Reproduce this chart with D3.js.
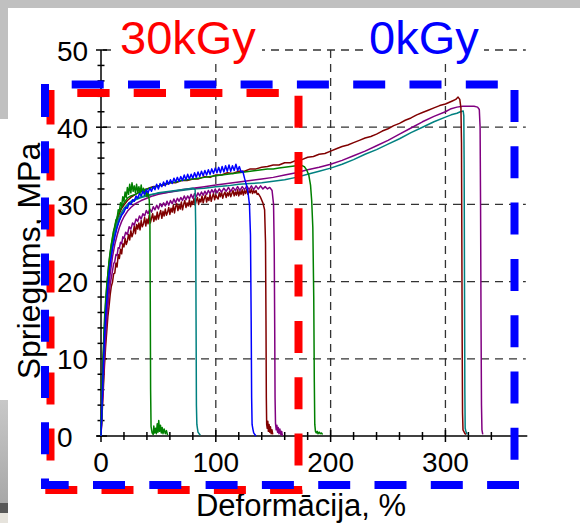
<!DOCTYPE html>
<html>
<head>
<meta charset="utf-8">
<script src="https://cdn.jsdelivr.net/npm/d3@7"></script>
<style>
  html, body { margin: 0; padding: 0; background: #fff; }
  svg { display: block; }
  text { font-family: "Liberation Sans", Arial, Helvetica, sans-serif; }
</style>
</head>
<body>
<svg id="chart" width="580" height="523"></svg>
<script>
// ---- axis ticks and labels ----
const xMajorTicks = [0, 100, 200, 300];
const xMinorTicks = [20, 40, 60, 80, 120, 140, 160, 180, 220, 240, 260, 280, 320, 340, 360];
const yMajorTicks = [0, 10, 20, 30, 40, 50];
const yMinorTicks = [2, 4, 6, 8, 12, 14, 16, 18, 22, 24, 26, 28, 32, 34, 36, 38, 42, 44, 46, 48];
const xTitle = "Deformācija, %";
const yTitle = "Spriegums, MPa";
const doseLabels = ["30kGy", "0kGy"];

// ---- stress-strain records: [strain %, stress MPa] ----
const greenA = [[0,0],[0.5,3],[1,6],[1.5,9],[2,11],[3,15],[4,17.5],[5,19.5],[6,21],[7,22.5],[8,23.6],[9,24.8],[10,25.5],[11,26.6],[12,27],[13,28],[14,28.2],[15,29.3],[16,29.1],[17,30.2],[18,29.8],[19,31],[20,30.4],[21,31.6],[22,30.9],[23,32.2],[24,31.3],[25,32.6],[26,31.5],[27,32.8],[28,31.7],[29,32.4],[30,31.5],[31,32.6],[32,31.6],[33,32.3],[34,31.4],[35,32.5],[36,31.5],[37,32.1],[38,31.2],[39,31.9],[40,31],[41,31.5],[42,30.6],[42.6,28],[42.9,18],[43.2,6],[43.6,1.2],[44.5,0.4],[45.5,0.2],[46,1.3],[46.7,0.4],[47.5,1.0],[48.2,0.3],[49,1.6],[49.6,0.5],[50.3,2.0],[51,0.6],[51.8,1.4],[52.5,0.4],[53.3,1.1],[54,0.3],[55,0.9],[56,0.3],[57,0.7],[58,0.1]];

const tealA = [[0,0],[0.5,2.5],[1,5],[1.5,7.5],[2,9.5],[3,13],[4,16],[5,18],[6,20],[7,21.5],[8,23],[10,25],[12,26.5],[14,27.6],[16,28.4],[18,29],[20,29.5],[23,30],[26,30.4],[30,30.7],[35,31],[40,31.2],[45,31.3],[50,31.5],[55,31.6],[60,31.7],[65,31.8],[70,31.9],[75,32],[80,32.1],[82,31.9],[82.5,27],[82.8,15],[83.1,4],[83.5,1.5],[84,1.0],[84.5,0.5],[85.5,0.3],[86.5,0.1]];

const blue0 = [[0,0],[0.5,2.2],[1,4.5],[1.5,6.8],[2,9],[3,12.5],[4,15.5],[5,17.5],[6,19.5],[7,21],[8,22.3],[10,24.3],[12,25.8],[14,27],[16,27.9],[18,28.6],[20,29.0],[21.5,29.6],[23,29.5],[24.5,30.2],[26,30.0],[27.5,30.6],[29,30.4],[30.5,31.1],[32,30.8],[33.5,31.4],[35,31.1],[36.5,31.7],[38,31.3],[39.5,31.9],[41,31.5],[42.5,32.1],[44,31.7],[45.5,32.3],[47,31.9],[48.5,32.6],[50,32.0],[51.5,32.7],[53,32.3],[54.5,32.9],[56,32.4],[57.5,33.1],[59,32.6],[60.5,33.2],[62,32.7],[63.5,33.4],[65,32.9],[66.5,33.5],[68,33.0],[69.5,33.6],[71,33.1],[72.5,33.8],[74,33.2],[75.5,33.9],[77,33.3],[78.5,33.9],[80,33.4],[81.5,34.1],[83,33.5],[84.5,34.2],[86,33.6],[87.5,34.3],[89,33.7],[90.5,34.4],[92,33.8],[93.5,34.5],[95,33.9],[96.5,34.6],[98,34.0],[99.5,34.7],[101,34.1],[102.5,34.8],[104,34.1],[105.5,34.9],[107,34.2],[108.5,35.0],[110,34.3],[111.5,35.1],[113,34.3],[114.5,35.0],[116,34.4],[117.5,35.2],[119,34.4],[120.5,34.9],[122,34.2],[123.5,34.3],[125,33.4],[126.5,32.6],[128,31.6],[129.3,30],[130.2,26],[130.8,15],[131.2,5],[131.6,1.5],[132.3,0.9],[133,0.4],[134,0.2],[135,0]];

const maroonA = [[0,0],[0.5,1.5],[1,3],[1.5,4.5],[2,6],[3,9],[4,11.5],[5,13.5],[6,15.5],[7,16.8],[8,18.3],[9,19.4],[10,19.9],[11,21.0],[12,21.1],[13,22.4],[14,21.9],[15,23.5],[16,23.0],[17,24.2],[18,23.6],[19,24.9],[20,24.5],[21,25.6],[22,24.8],[23,25.3],[24,26.1],[25,25.4],[26,26.6],[27,25.8],[28,26.3],[29,27.2],[30,26.2],[31,27.4],[32,26.8],[33,27.6],[34,26.7],[35,27.9],[36,27.1],[37,27.5],[38,28.3],[39,27.2],[40,28.1],[41,27.5],[42,28.6],[43,27.6],[44,28.2],[45,28.8],[46,27.8],[47,28.5],[48,28.0],[49,29.0],[50,28.1],[51,28.7],[52,29.2],[53,28.2],[54,29.1],[55,28.5],[56,29.4],[57,28.6],[58,29.0],[59,29.6],[60,28.7],[61,29.5],[62,29.0],[63,29.9],[64,28.9],[65,29.7],[66,30.1],[67,29.2],[68,29.9],[69,29.4],[70,30.3],[71,29.3],[72,30.0],[73,30.5],[74,29.6],[75,30.2],[76,29.8],[77,30.6],[78,29.7],[79,30.4],[80,30.0],[81,30.8],[82,29.9],[83,30.5],[84,30.9],[85,30.0],[86,30.7],[87,30.3],[88,31.1],[89,30.2],[90,30.8],[91,31.2],[92,30.3],[93,30.9],[94,30.5],[95,31.3],[96,30.4],[97,31.0],[98,31.4],[99,30.6],[100,31.2],[101,30.9],[102,30.7],[103,31.5],[104,31.0],[105,31.6],[106,30.8],[107,31.3],[108,31.6],[109,30.9],[110,31.5],[111,31.1],[112,31.7],[113,31.0],[114,31.4],[115,31.8],[116,31.1],[117,31.6],[118,31.2],[119,31.9],[120,31.1],[121,31.7],[122,31.3],[123,31.9],[124,31.2],[125,31.8],[126,31.4],[127,32.0],[128,31.3],[129,31.8],[130,31.5],[131,32.0],[132,31.4],[133,31.8],[134,31.5],[135,31.8],[136,31.3],[137,31.4],[139,30.9],[141,30.2],[142.5,29.3],[143.3,25],[143.7,15],[144,5],[144.3,1.5],[144.8,1.0],[145.3,1.9],[145.8,0.6],[146.4,1.5],[147,0.5],[147.6,1.2],[148.2,0.3],[148.9,0.8],[149.6,0.2]];

const purpleA = [[0,0],[0.5,1.8],[1,3.5],[1.5,5.2],[2,7],[3,10],[4,12.8],[5,15],[6,16.8],[7,18.3],[8,19.6],[9,20.5],[10,21.4],[11,22.3],[12,22.6],[13,23.5],[14,23.4],[15,24.4],[16,24.3],[17,25.1],[18,24.9],[19,25.8],[20,25.6],[21.5,26.4],[23,26.1],[24.5,27.1],[26,26.8],[27.5,27.6],[29,27.3],[30.5,28.1],[32,27.8],[33.5,28.5],[35,28.1],[36.5,28.8],[38,28.5],[39.5,29.2],[41,28.8],[42.5,29.4],[44,29.0],[45.5,29.7],[47,29.3],[48.5,29.9],[50,29.4],[51.5,30.1],[53,29.7],[54.5,30.2],[56,29.8],[57.5,30.4],[59,29.9],[60.5,30.5],[62,30.1],[63.5,30.7],[65,30.2],[66.5,30.8],[68,30.4],[69.5,30.9],[71,30.5],[72.5,31.1],[74,30.6],[75.5,31.1],[77,30.7],[78.5,31.3],[80,30.8],[81.5,31.4],[83,31.0],[84.5,31.5],[86,31.1],[87.5,31.6],[89,31.2],[90.5,31.7],[92,31.3],[93.5,31.8],[95,31.4],[96.5,31.9],[98,31.5],[99.5,32.0],[101,31.5],[103,32.0],[105,31.6],[107,32.1],[109,31.7],[111,32.2],[113,31.7],[115,32.2],[117,31.8],[119,32.3],[121,31.8],[123,32.3],[125,31.9],[127,32.4],[129,31.9],[131,32.4],[133,31.9],[135,32.4],[137,32.0],[139,32.4],[141,32.0],[143,32.3],[145,32.0],[147,32.2],[149,31.8],[150.3,30],[150.9,24],[151.3,14],[151.6,5],[152,1.6],[152.6,0.8],[153.2,1.4],[153.8,0.5],[154.4,1.1],[155,0.3],[155.8,0.9],[156.6,0.2],[157.4,0.6],[158,0]];

const greenB = [[0,0],[0.5,2.8],[1,5.5],[1.5,8],[2,10.3],[3,14],[4,17],[5,19.2],[6,21],[7,22.6],[8,23.9],[10,25.8],[12,27.2],[14,28.3],[16,29.1],[18,29.7],[20,30.2],[23,30.8],[26,31.1],[30,31.3],[35,31.7],[40,32],[45,32.2],[50,32.4],[55,32.6],[60,32.8],[65,32.9],[70,33.1],[75,33.2],[80,33.3],[85,33.4],[90,33.5],[95,33.6],[100,33.7],[105,33.8],[110,33.9],[115,34],[120,34.1],[125,34.2],[130,34.3],[135,34.4],[140,34.5],[145,34.6],[150,34.6],[155,34.7],[160,34.8],[165,34.9],[170,35],[174,35.1],[177,34.9],[179,34.5],[181,33.8],[182.5,32.5],[183.5,30.5],[184.5,27],[185.3,18],[185.8,7],[186.2,1.5],[186.8,0.6],[187.5,0.4],[188.3,0.6],[189,0.3],[190,0.5],[191,0.3],[192,0.4],[193,0.2]];

const maroonB = [[0,0],[0.5,2.7],[1,5.2],[1.5,7.6],[2,9.8],[3,13.4],[4,16.3],[5,18.5],[6,20.3],[7,21.9],[8,23.2],[10,25.2],[12,26.7],[14,27.9],[16,28.8],[18,29.5],[20,29.9],[23,30.5],[26,30.9],[30,31.3],[35,31.8],[40,32],[45,32.3],[50,32.4],[55,32.5],[60,32.8],[65,32.8],[70,33.1],[75,33.1],[80,33.3],[85,33.3],[90,33.6],[95,33.5],[100,33.8],[105,33.8],[110,34.1],[115,34],[120,34.3],[125,34.3],[130,34.6],[135,34.6],[140,34.8],[145,34.9],[150,35.1],[155,35.1],[160,35.4],[165,35.4],[170,35.7],[175,35.8],[180,36.1],[185,36.2],[190,36.5],[195,36.6],[200,36.9],[205,37.2],[210,37.5],[215,37.7],[220,38],[225,38.3],[230,38.6],[235,38.8],[240,39.1],[245,39.5],[250,39.8],[255,40.2],[260,40.5],[265,40.9],[270,41.2],[275,41.6],[280,41.9],[285,42.2],[290,42.5],[295,42.8],[300,43],[303,43.2],[306,43.4],[309,43.6],[311,43.9],[312.5,43.6],[313.5,42.5],[314,38],[314.3,25],[314.6,12],[314.9,3],[315.3,0.8],[316,0.6],[317,0.3],[318,0.2]];

const tealB = [[0,0],[0.5,2.3],[1,4.6],[1.5,6.9],[2,9],[3,12.5],[4,15.5],[5,17.7],[6,19.6],[7,21.2],[8,22.5],[10,24.5],[12,26],[14,27.2],[16,28],[18,28.7],[20,29.2],[23,29.8],[26,30.2],[30,30.6],[35,30.9],[40,31.1],[45,31.3],[50,31.4],[60,31.6],[70,31.8],[80,32],[90,32.1],[100,32.3],[110,32.4],[120,32.6],[130,32.7],[140,32.8],[150,33],[160,33.2],[170,33.5],[180,33.9],[190,34.3],[200,34.7],[210,35.2],[220,35.8],[230,36.5],[240,37.1],[250,37.8],[260,38.5],[270,39.3],[280,40],[290,40.7],[300,41.3],[305,41.6],[310,41.8],[313,42],[315.5,42.1],[316,41.5],[316.3,35],[316.6,20],[316.9,6],[317.2,1],[318,0.5],[319,0.2]];

const purpleB = [[0,0],[0.5,2],[1,4],[1.5,6],[2,7.8],[3,11],[4,13.8],[5,16],[6,18],[7,19.6],[8,21],[10,23.2],[12,24.8],[14,26],[16,27],[18,27.8],[20,28.4],[23,29.1],[26,29.6],[30,30.1],[35,30.5],[40,30.8],[45,31.1],[50,31.3],[60,31.6],[70,31.9],[80,32.1],[90,32.3],[100,32.5],[110,32.7],[120,32.9],[130,33.1],[140,33.3],[150,33.5],[160,33.8],[170,34.1],[180,34.5],[190,34.8],[200,35.2],[210,35.7],[220,36.3],[230,36.9],[240,37.6],[250,38.3],[260,39.1],[270,39.9],[280,40.7],[290,41.4],[300,42],[305,42.4],[310,42.6],[315,42.7],[320,42.7],[325,42.7],[328,42.6],[329.5,42.3],[330.2,40],[330.6,30],[331,15],[331.4,4],[331.8,0.8],[332.5,0.2]];

// drawing order (back to front) and line colours
const seriesOrder = [maroonA, purpleA, tealB, purpleB, maroonB, greenB, tealA, greenA, blue0];
const seriesColors = ["#800000", "#800080", "#008080", "#800080", "#800000", "#008000", "#008080", "#008000", "#0000ff"];

// ---- layout ----
const W = 580, H = 523;
const svg = d3.select("#chart");
const x = d3.scaleLinear().domain([0, 370]).range([101, 525.8]);
const y = d3.scaleLinear().domain([0, 50]).range([436, 50]);

// page backdrop with grey margins
svg.append("rect").attr("width", W).attr("height", H).attr("fill", "#fff");
const defs = svg.append("defs");
const shade = defs.append("linearGradient").attr("id", "edgeShade")
  .attr("x1", 0).attr("y1", 0).attr("x2", 0).attr("y2", 1);
shade.append("stop").attr("offset", "0%").attr("stop-color", "#c8c8c8");
shade.append("stop").attr("offset", "100%").attr("stop-color", "#a8a8a8");
svg.append("rect").attr("x", 0).attr("y", 0).attr("width", W).attr("height", 8).attr("fill", "#c0c0c0");
svg.append("rect").attr("x", 0).attr("y", 0).attr("width", 8).attr("height", 119).attr("fill", "#c0c0c0");
svg.append("rect").attr("x", 0).attr("y", 400).attr("width", 8).attr("height", 103).attr("fill", "url(#edgeShade)");
svg.append("rect").attr("x", 0).attr("y", 503).attr("width", 8).attr("height", 10).attr("fill", "#585858");
svg.append("rect").attr("x", 0).attr("y", 513).attr("width", 8).attr("height", 10).attr("fill", "#e6e3dc");

// dashed grid
const grid = svg.append("g").attr("stroke", "#333").attr("stroke-width", 1.3)
  .attr("stroke-dasharray", "8,6").attr("fill", "none");
grid.selectAll("line.gh").data(yMajorTicks.filter(v => v > 0)).join("line")
  .attr("class", "gh")
  .attr("x1", x(0) + 2).attr("x2", x(370))
  .attr("y1", d => y(d)).attr("y2", d => y(d));
grid.selectAll("line.gv").data(xMajorTicks.filter(v => v > 0)).join("line")
  .attr("class", "gv")
  .attr("x1", d => x(d)).attr("x2", d => x(d))
  .attr("y1", y(0)).attr("y2", y(50));

// label boxes for the dose captions
const capBoxes = [[115, 262], [364, 484]];
svg.selectAll("rect.cap").data(capBoxes).join("rect")
  .attr("class", "cap")
  .attr("x", d => d[0]).attr("width", d => d[1] - d[0])
  .attr("y", 12).attr("height", 46).attr("fill", "#fff");

// axes
const axes = svg.append("g").attr("stroke", "#000").attr("stroke-width", 1.5);
axes.append("line").attr("x1", x(0) - 4).attr("x2", x(370) + 1.5).attr("y1", y(0)).attr("y2", y(0));
axes.append("line").attr("x1", x(0)).attr("x2", x(0)).attr("y1", y(0) + 1).attr("y2", y(50));
axes.selectAll("line.xM").data(xMajorTicks).join("line").attr("class", "xM")
  .attr("x1", d => x(d)).attr("x2", d => x(d)).attr("y1", y(0) - 6).attr("y2", y(0) + 6);
axes.selectAll("line.xm").data(xMinorTicks).join("line").attr("class", "xm")
  .attr("x1", d => x(d)).attr("x2", d => x(d)).attr("y1", y(0) - 4).attr("y2", y(0) + 4);
axes.selectAll("line.yM").data(yMajorTicks).join("line").attr("class", "yM")
  .attr("x1", x(0) - 5).attr("x2", x(0) + 6).attr("y1", d => y(d)).attr("y2", d => y(d));
axes.selectAll("line.ym").data(yMinorTicks).join("line").attr("class", "ym")
  .attr("x1", x(0) - 3.5).attr("x2", x(0) + 3.5).attr("y1", d => y(d)).attr("y2", d => y(d));

svg.selectAll("text.xt").data(xMajorTicks).join("text").attr("class", "xt")
  .attr("x", d => x(d)).attr("y", 472).attr("text-anchor", "middle")
  .attr("font-size", 28).attr("fill", "#000").text(d => d);
svg.selectAll("text.yt").data(yMajorTicks).join("text").attr("class", "yt")
  .attr("x", 57).attr("y", d => y(d) + 10.5).attr("text-anchor", "start")
  .attr("font-size", 28).attr("fill", "#000").text(d => d);

// axis titles
svg.append("rect").attr("x", 0).attr("y", 119).attr("width", 50).attr("height", 281).attr("fill", "#fff");
svg.append("text").attr("transform", "translate(40,261) rotate(-90)")
  .attr("text-anchor", "middle").attr("font-size", 32).attr("fill", "#000").text(yTitle);
svg.append("text").attr("x", 301).attr("y", 516).attr("text-anchor", "middle")
  .attr("font-size", 31).attr("fill", "#000").text(xTitle);

// curves
const line = d3.line().x(d => x(d[0])).y(d => y(d[1]));
svg.append("g").attr("fill", "none").attr("stroke-width", 1.5).attr("stroke-linejoin", "round")
  .selectAll("path").data(seriesOrder).join("path")
  .attr("stroke", (d, i) => seriesColors[i])
  .attr("d", line);

// dose captions
svg.append("text").attr("x", 120).attr("y", 53.5).attr("font-size", 47).attr("fill", "#ff0000").text(doseLabels[0]);
svg.append("text").attr("x", 369).attr("y", 53.5).attr("font-size", 47).attr("fill", "#0000ff").text(doseLabels[1]);

// dashed outlines grouping the two doses
function dashedEdge(x1, y1, x2, y2, color, pattern, offset) {
  svg.append("line").attr("x1", x1).attr("y1", y1).attr("x2", x2).attr("y2", y2)
    .attr("stroke", color).attr("stroke-width", 8)
    .attr("stroke-dasharray", pattern).attr("stroke-dashoffset", offset || 0);
}
// 30kGy frame
dashedEdge(77.3, 93, 279, 93, "#ff0000", "32.3 24.1");
dashedEdge(50.5, 90, 50.5, 494, "#ff0000", "34.5 24 32 24 32 24 32 24 32 24 32 24 32 24 32 24");
dashedEdge(45.3, 490, 303, 490, "#ff0000", "32 24.2");
dashedEdge(298.5, 95.7, 298.5, 494, "#ff0000", "32 24.3");
// 0kGy frame
dashedEdge(71.7, 84.5, 514, 84.5, "#0000ff", "32 24.3");
dashedEdge(45, 84, 45, 489, "#0000ff", "33 24.2 32 24.2 32 24.2 32 24.2 32 24.2 32 24.2 32 24.2 32 24.2");
dashedEdge(41, 485, 519, 485, "#0000ff", "32 24.3", 4.3);
dashedEdge(514.5, 90, 514.5, 489, "#0000ff", "32 24.3");
</script>
</body>
</html>
